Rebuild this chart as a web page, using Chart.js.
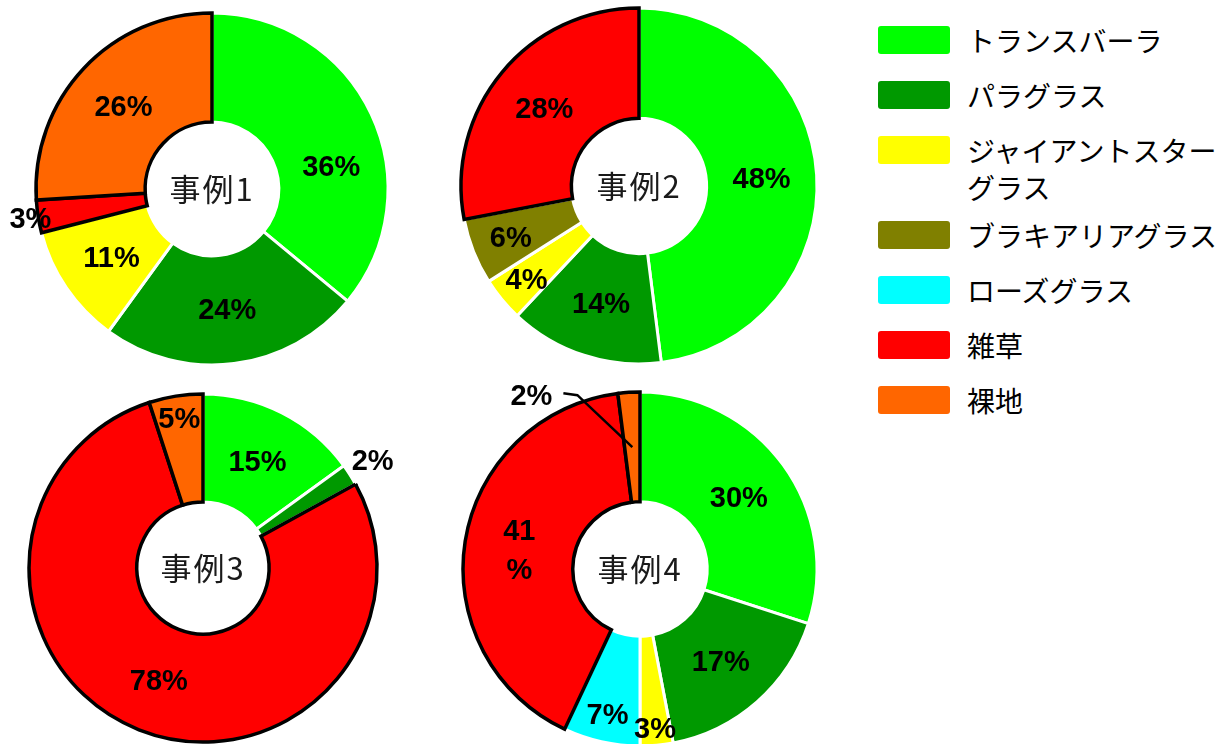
<!DOCTYPE html>
<html><head><meta charset="utf-8">
<script src="https://cdn.jsdelivr.net/npm/chart.js@4.4.1/dist/chart.umd.min.js"></script>
<style>
html,body{margin:0;padding:0;background:#fff;width:1230px;height:744px;overflow:hidden;position:relative;}
canvas.pie{position:absolute;}
.lg-box{position:absolute;width:72px;height:28px;border-radius:3px;}
.lg-text{position:absolute;width:262px;font-family:"Noto Sans CJK JP","Noto Sans",sans-serif;font-size:28px;line-height:37px;color:#000;white-space:normal;}
</style></head><body>
<canvas id="c1" class="pie" width="440" height="420"></canvas>
<canvas id="c2" class="pie" width="440" height="420"></canvas>
<canvas id="c3" class="pie" width="440" height="420"></canvas>
<canvas id="c4" class="pie" width="440" height="420"></canvas>
<div id="legend"></div>
<script>
// ---- data ----
const categories = ['トランスバーラ','パラグラス','ジャイアントスターグラス','ブラキアリアグラス','ローズグラス','雑草','裸地'];
const case1Values = [36, 24, 11, 0, 0, 3, 26];
const case2Values = [48, 14, 4, 6, 0, 28, 0];
const case3Values = [15, 2, 0, 0, 0, 78, 5];
const case4Values = [30, 17, 3, 0, 7, 41, 2];
const caseNames = ['事例1', '事例2', '事例3', '事例4'];

// ---- styles ----
const colors = ['#00ff00', '#009900', '#ffff00', '#808000', '#00ffff', '#ff0000', '#ff6600'];
const edgeColors = ['#ffffff', '#ffffff', '#ffffff', '#ffffff', '#ffffff', '#000000', '#000000'];
const edgeWidths = [3, 3, 3, 3, 3, 3.5, 3.5];
const layouts = [
  {id: 'c1', cx: 212, cy: 189, r: 176},
  {id: 'c2', cx: 639, cy: 186, r: 178},
  {id: 'c3', cx: 203, cy: 568, r: 174},
  {id: 'c4', cx: 640, cy: 569, r: 177}
];
// label placement adjustments (index -> {angle in deg from top, r as fraction of outer radius})
const labelTweaks = [
  {0: {angle: 79}, 5: {r: 1.045}},
  {2: {r: 0.82}, 3: {r: 0.775}},
  {1: {r: 1.155}, 6: {r: 0.874}},
  {2: {r: 0.9}, 4: {r: 0.84}, 5: {wrap: true}, 6: {angle: 328, r: 1.158, leader: true}}
];

const pctLabels = {
  id: 'pctLabels',
  afterDatasetsDraw(chart, args, opts) {
    const ctx = chart.ctx;
    const meta = chart.getDatasetMeta(0);
    const data = chart.data.datasets[0].data;
    const tweaks = opts.tweaks || {};
    ctx.save();
    ctx.fillStyle = '#000';
    ctx.strokeStyle = '#000';
    ctx.textAlign = 'center';
    ctx.textBaseline = 'alphabetic';
    ctx.font = 'bold 29px "Liberation Sans", Arial, sans-serif';
    meta.data.forEach((arc, i) => {
      const v = data[i];
      if (!v) return;
      const p = arc.getProps(['x', 'y', 'startAngle', 'endAngle', 'innerRadius', 'outerRadius'], true);
      const t = tweaks[i] || {};
      const mid = (p.startAngle + p.endAngle) / 2;
      const midR = (p.innerRadius + p.outerRadius) / 2;
      const ang = t.angle !== undefined ? (t.angle - 90) * Math.PI / 180 : mid;
      const rad = t.r !== undefined ? t.r * p.outerRadius : midR;
      const lx = p.x + Math.cos(ang) * rad;
      const ly = p.y + Math.sin(ang) * rad;
      if (t.leader) {
        ctx.lineWidth = 2.5;
        ctx.beginPath();
        ctx.moveTo(lx + 32, ly - 2);
        ctx.lineTo(lx + 46, ly);
        ctx.lineTo(p.x + Math.cos(mid) * midR, p.y + Math.sin(mid) * midR);
        ctx.stroke();
      }
      if (t.wrap) {
        ctx.fillText(String(v), lx, ly - 19.5 + 10);
        ctx.fillText('%', lx, ly + 19.5 + 10);
      } else {
        ctx.fillText(v + '%', lx, ly + 10);
      }
    });
    const c = meta.data[0];
    ctx.font = '31px "Noto Sans CJK JP", "Noto Sans", sans-serif';
    if ('letterSpacing' in ctx) ctx.letterSpacing = '2px';
    ctx.fillStyle = '#1a1a1a';
    ctx.fillText(opts.title, c.x, c.y + 12);
    ctx.restore();
  }
};

const allValues = [case1Values, case2Values, case3Values, case4Values];
layouts.forEach((L, k) => {
  const cv = document.getElementById(L.id);
  cv.style.left = (L.cx - 220) + 'px';
  cv.style.top = (L.cy - 210) + 'px';
  new Chart(cv, {
    type: 'doughnut',
    data: {
      labels: categories,
      datasets: [{
        data: allValues[k],
        backgroundColor: colors,
        borderColor: edgeColors,
        borderWidth: (c) => (c.raw ? edgeWidths[c.dataIndex] : 0),
        borderJoinStyle: 'miter',
        borderAlign: 'center',
        hoverOffset: 0
      }]
    },
    options: {
      responsive: false,
      animation: false,
      events: [],
      radius: L.r,
      cutout: '38%',
      layout: {padding: 0},
      plugins: {
        legend: {display: false},
        tooltip: {enabled: false},
        pctLabels: {title: caseNames[k], tweaks: labelTweaks[k]}
      }
    },
    plugins: [pctLabels]
  });
});

// ---- legend ----
const legendEl = document.getElementById('legend');
let y = 26;
categories.forEach((name, i) => {
  const box = document.createElement('div');
  box.className = 'lg-box';
  box.style.background = colors[i];
  box.style.left = '878px';
  box.style.top = y + 'px';
  const tx = document.createElement('div');
  tx.className = 'lg-text';
  tx.textContent = name;
  tx.style.left = '967px';
  tx.style.top = (y - 4.5) + 'px';
  legendEl.append(box, tx);
  const lines = Math.max(1, Math.round(tx.offsetHeight / 37));
  y += 55 + 30 * (lines - 1);
});
</script>
</body></html>
